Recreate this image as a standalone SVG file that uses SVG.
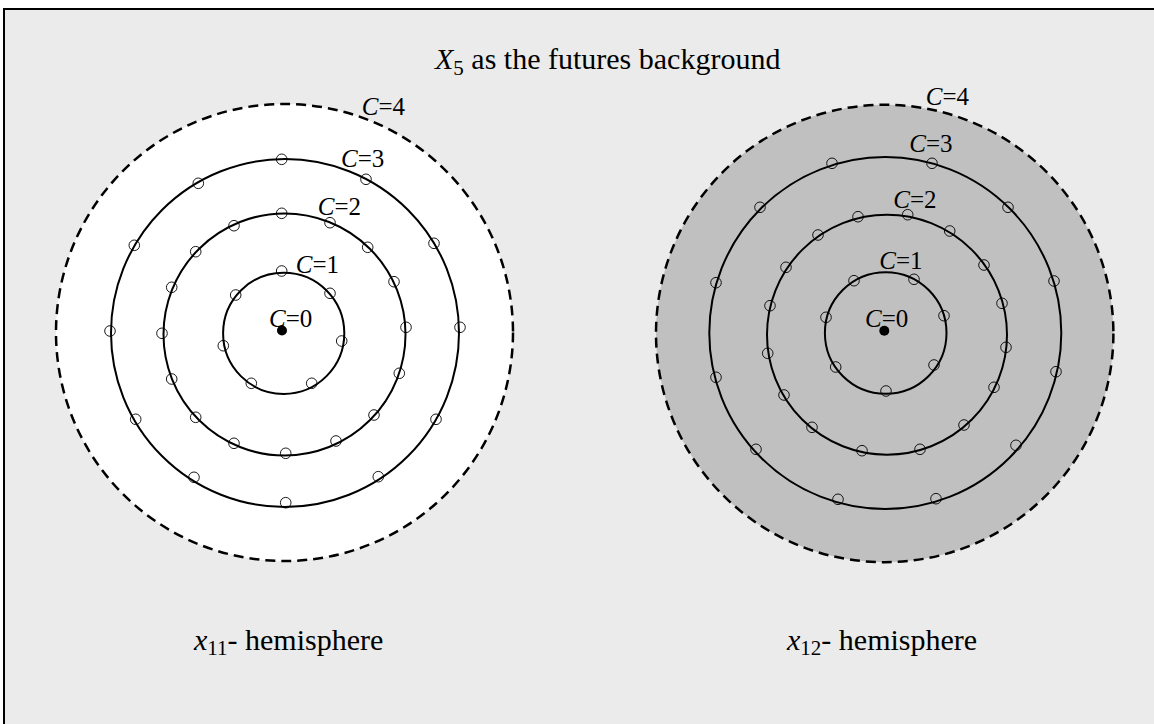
<svg xmlns="http://www.w3.org/2000/svg" xmlns:xlink="http://www.w3.org/1999/xlink" width="1154" height="724" viewBox="0 0 1154 724">
<style>
  text { font-family: "Liberation Serif", "Times New Roman", serif; fill: #000; }
  .title { font-size: 30px; }
  .lbl { font-size: 25px; }
  .it { font-style: italic; }
  .ring { fill: none; stroke: #000; stroke-width: 2; }
  .outer { stroke: #000; stroke-width: 2.5; stroke-dasharray: 10 6; }
  .pt { fill: none; stroke: #000; stroke-width: 0.9; }
</style>
<defs>
  <circle id="p" r="5.3" class="pt"/>
</defs>
<rect x="0" y="0" width="1154" height="724" fill="#ffffff"/>
<rect x="4" y="9" width="1160" height="730" fill="#ebebeb" stroke="#000" stroke-width="2"/>

<g id="title">
  <text class="title" x="435" y="69"><tspan class="it">X</tspan><tspan font-size="21" dy="6">5</tspan><tspan dy="-6"> as the futures background</tspan></text>
</g>

<g id="left-hemisphere">
  <circle cx="284.5" cy="332.5" r="228.5" fill="#ffffff" class="outer"/>
  <circle cx="285" cy="333" r="174" class="ring"/>
  <circle cx="284.5" cy="334.5" r="121" class="ring"/>
  <circle cx="283.7" cy="333.3" r="60.6" class="ring"/>
  <circle cx="282" cy="330.5" r="5" fill="#000"/>
  <g id="left-points">
    <use xlink:href="#p" x="281.7" y="271"/>
    <use xlink:href="#p" x="235.7" y="295"/>
    <use xlink:href="#p" x="330" y="293.3"/>
    <use xlink:href="#p" x="223.3" y="345.7"/>
    <use xlink:href="#p" x="341.7" y="341"/>
    <use xlink:href="#p" x="251.3" y="383.3"/>
    <use xlink:href="#p" x="311.7" y="383.3"/>

    <use xlink:href="#p" x="281.7" y="213.3"/>
    <use xlink:href="#p" x="234" y="225.7"/>
    <use xlink:href="#p" x="330" y="222.7"/>
    <use xlink:href="#p" x="195.7" y="251.7"/>
    <use xlink:href="#p" x="367.7" y="247.3"/>
    <use xlink:href="#p" x="171.7" y="287.3"/>
    <use xlink:href="#p" x="394" y="281.7"/>
    <use xlink:href="#p" x="162" y="333.3"/>
    <use xlink:href="#p" x="406" y="327.3"/>
    <use xlink:href="#p" x="171.7" y="379"/>
    <use xlink:href="#p" x="399.3" y="373.3"/>
    <use xlink:href="#p" x="195.7" y="417.3"/>
    <use xlink:href="#p" x="374" y="415"/>
    <use xlink:href="#p" x="234" y="443.3"/>
    <use xlink:href="#p" x="336" y="441"/>
    <use xlink:href="#p" x="285.7" y="453.3"/>

    <use xlink:href="#p" x="281.7" y="159.3"/>
    <use xlink:href="#p" x="198.3" y="183.3"/>
    <use xlink:href="#p" x="366" y="179.3"/>
    <use xlink:href="#p" x="134.3" y="245.3"/>
    <use xlink:href="#p" x="434" y="243.3"/>
    <use xlink:href="#p" x="110" y="331"/>
    <use xlink:href="#p" x="460" y="327.3"/>
    <use xlink:href="#p" x="135.7" y="419.3"/>
    <use xlink:href="#p" x="436" y="419.3"/>
    <use xlink:href="#p" x="194" y="477.3"/>
    <use xlink:href="#p" x="378.3" y="476.7"/>
    <use xlink:href="#p" x="285.7" y="502.7"/>
  </g>
  <text class="lbl" x="361.7" y="114.7"><tspan class="it">C</tspan>=4</text>
  <text class="lbl" x="341" y="167.3"><tspan class="it">C</tspan>=3</text>
  <text class="lbl" x="317.7" y="215"><tspan class="it">C</tspan>=2</text>
  <text class="lbl" x="295.7" y="272.7"><tspan class="it">C</tspan>=1</text>
  <text class="lbl" x="269" y="327.3"><tspan class="it">C</tspan>=0</text>
  <text class="title" x="194" y="650"><tspan class="it">x</tspan><tspan font-size="21" dy="5">11</tspan><tspan dy="-5">- hemisphere</tspan></text>
</g>

<g id="right-hemisphere">
  <circle cx="884.7" cy="333.5" r="228.7" fill="#c0c0c0" class="outer"/>
  <circle cx="885.3" cy="333" r="176" class="ring"/>
  <circle cx="887" cy="334.7" r="120" class="ring"/>
  <circle cx="885.7" cy="333" r="60.8" class="ring"/>
  <circle cx="884.3" cy="330.7" r="5" fill="#000"/>
  <g id="right-points">
    <use xlink:href="#p" x="854" y="280.7"/>
    <use xlink:href="#p" x="914" y="279.3"/>
    <use xlink:href="#p" x="826" y="317.3"/>
    <use xlink:href="#p" x="944" y="315.7"/>
    <use xlink:href="#p" x="835.7" y="367"/>
    <use xlink:href="#p" x="934" y="365"/>
    <use xlink:href="#p" x="886" y="391"/>

    <use xlink:href="#p" x="858" y="216.7"/>
    <use xlink:href="#p" x="907.7" y="214.7"/>
    <use xlink:href="#p" x="818" y="235"/>
    <use xlink:href="#p" x="949.7" y="231"/>
    <use xlink:href="#p" x="786" y="267.3"/>
    <use xlink:href="#p" x="984" y="265"/>
    <use xlink:href="#p" x="770" y="305.7"/>
    <use xlink:href="#p" x="1002" y="303.3"/>
    <use xlink:href="#p" x="767.7" y="353.3"/>
    <use xlink:href="#p" x="1006" y="347.3"/>
    <use xlink:href="#p" x="784" y="395"/>
    <use xlink:href="#p" x="994" y="387.3"/>
    <use xlink:href="#p" x="812" y="427.3"/>
    <use xlink:href="#p" x="964" y="425"/>
    <use xlink:href="#p" x="862" y="450.7"/>
    <use xlink:href="#p" x="920" y="449.3"/>

    <use xlink:href="#p" x="832" y="163.3"/>
    <use xlink:href="#p" x="932" y="163.3"/>
    <use xlink:href="#p" x="760" y="207.3"/>
    <use xlink:href="#p" x="1008" y="207.3"/>
    <use xlink:href="#p" x="716" y="282.7"/>
    <use xlink:href="#p" x="1054" y="281"/>
    <use xlink:href="#p" x="716" y="377.3"/>
    <use xlink:href="#p" x="1056" y="371.7"/>
    <use xlink:href="#p" x="756" y="449.3"/>
    <use xlink:href="#p" x="1016" y="445.3"/>
    <use xlink:href="#p" x="838" y="499.3"/>
    <use xlink:href="#p" x="936" y="498.7"/>
  </g>
  <text class="lbl" x="925.7" y="105"><tspan class="it">C</tspan>=4</text>
  <text class="lbl" x="909.3" y="152.3"><tspan class="it">C</tspan>=3</text>
  <text class="lbl" x="893.3" y="208.3"><tspan class="it">C</tspan>=2</text>
  <text class="lbl" x="879.3" y="269"><tspan class="it">C</tspan>=1</text>
  <text class="lbl" x="865" y="326.7"><tspan class="it">C</tspan>=0</text>
  <text class="title" x="787" y="650"><tspan class="it">x</tspan><tspan font-size="21" dy="5">12</tspan><tspan dy="-5">- hemisphere</tspan></text>
</g>
</svg>
